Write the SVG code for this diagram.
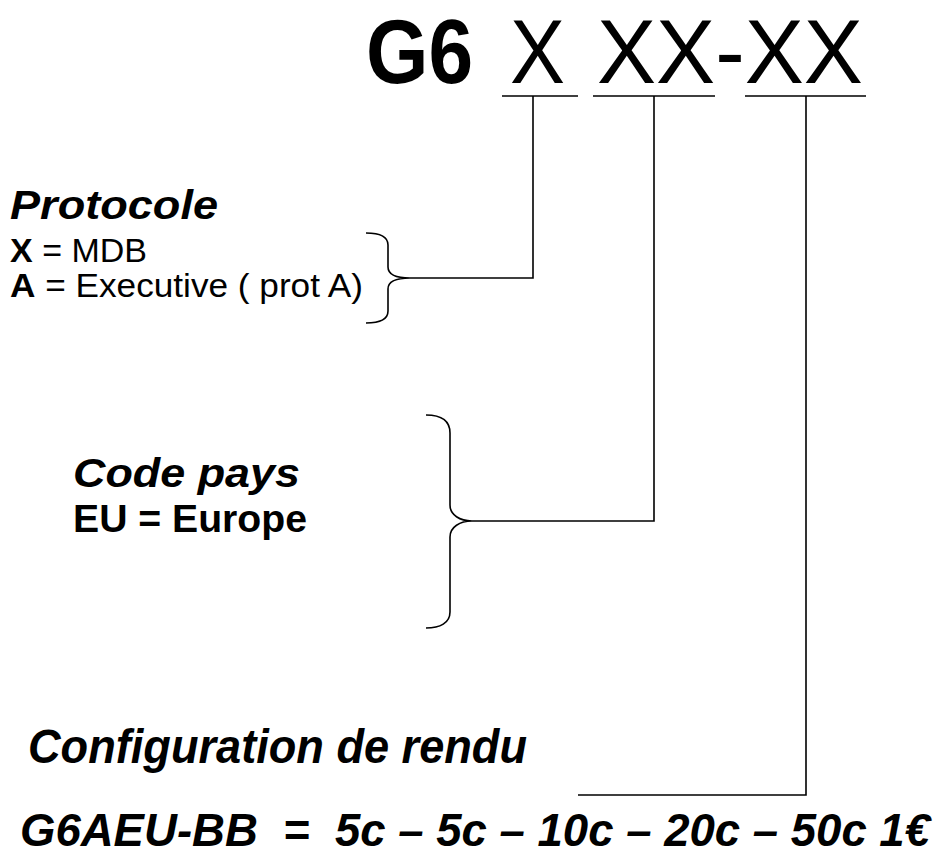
<svg xmlns="http://www.w3.org/2000/svg" width="938" height="854" viewBox="0 0 938 854">
<style>
text{font-family:"Liberation Sans",Arial,sans-serif;fill:#000}
.big{font-size:90px}
.b{font-weight:bold}
.bi{font-weight:bold;font-style:italic}
.lbl{font-size:34px}
.ln{fill:none;stroke:#000;stroke-width:1.6}
.pre{white-space:pre}
</style>
<rect width="938" height="854" fill="#fff"/>
<g id="code">
<text class="big b" x="366" y="83" textLength="107" lengthAdjust="spacingAndGlyphs">G6</text>
<text class="big" x="510" y="83" textLength="55" lengthAdjust="spacingAndGlyphs">X</text>
<text class="big" x="597" y="83" textLength="266" lengthAdjust="spacingAndGlyphs">XX-XX</text>
</g>
<g id="protocole">
<text class="bi" x="10" y="219" font-size="40" textLength="208" lengthAdjust="spacingAndGlyphs">Protocole</text>
<text class="lbl" x="10" y="262"><tspan class="b">X</tspan> = MDB</text>
<text class="lbl" x="10" y="297" textLength="353" lengthAdjust="spacingAndGlyphs"><tspan class="b">A</tspan> = Executive ( prot A)</text>
</g>
<g id="code-pays">
<text class="bi" x="73" y="487" font-size="40" textLength="227" lengthAdjust="spacingAndGlyphs">Code pays</text>
<text class="b" x="73" y="532" font-size="38" textLength="234" lengthAdjust="spacingAndGlyphs">EU = Europe</text>
</g>
<g id="configuration">
<text class="bi" x="28" y="763" font-size="49" textLength="499" lengthAdjust="spacingAndGlyphs">Configuration de rendu</text>
<text class="bi pre" x="20" y="846" font-size="47" textLength="910" lengthAdjust="spacingAndGlyphs">G6AEU-BB  =  5c – 5c – 10c – 20c – 50c 1€</text>
</g>
<g id="connectors" class="ln">
<path d="M502,96H578M593,96H715M745,96H866"/>
<path d="M533,96V278H410"/>
<path d="M654,96V521H472"/>
<path d="M806,96V795H578"/>
<path d="M366,233C378,233 388,236 388,245V267C388,274 396,278 410,278C396,278 388,282 388,289V311C388,320 378,323 366,323"/>
<path d="M426,415C440,415 450,420 450,433V505C450,515 460,521 472,521C460,521 450,527 450,537V612C450,623 440,628 426,628"/>
</g>
</svg>
